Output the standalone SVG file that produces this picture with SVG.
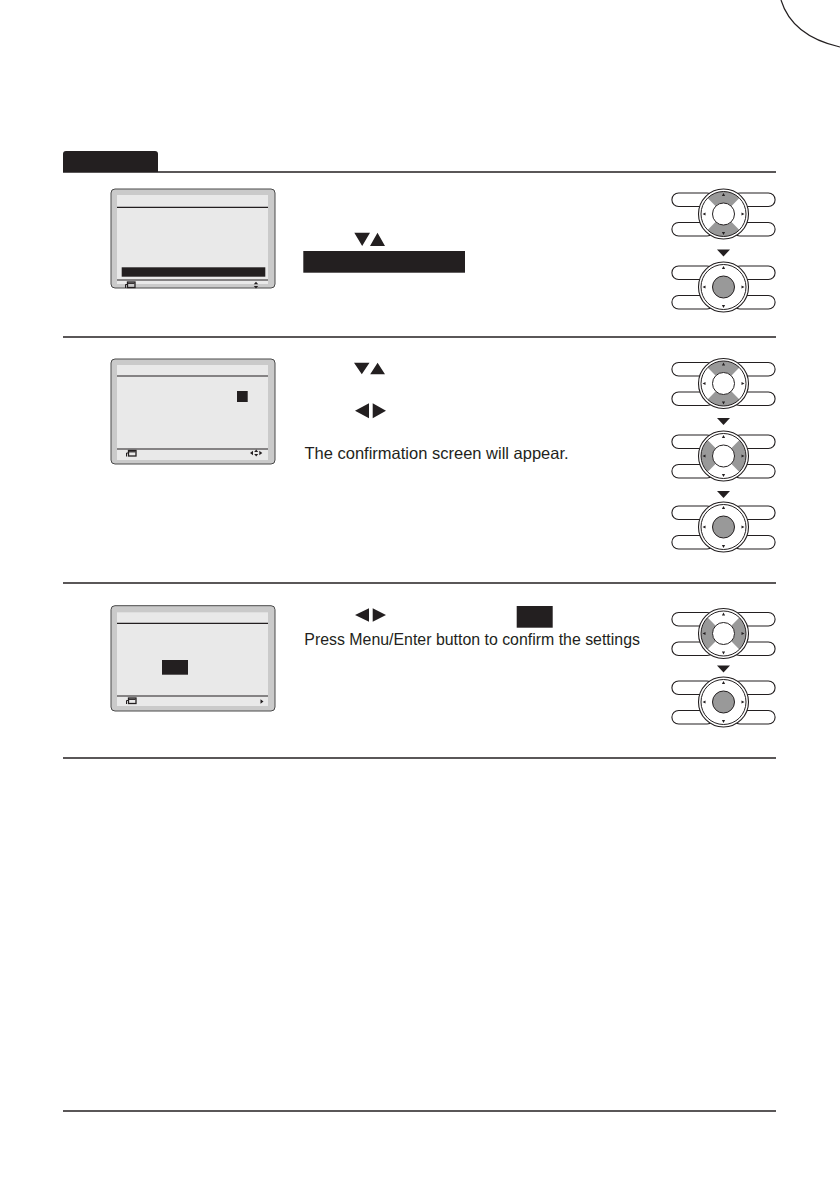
<svg xmlns="http://www.w3.org/2000/svg" xmlns:xlink="http://www.w3.org/1999/xlink" width="840" height="1191" viewBox="0 0 840 1191">
<style>
.rule{stroke:#231f20;stroke-width:1.4;fill:none}
.frame{fill:#cacaca;stroke:#4a4a4a;stroke-width:1}
.disp{fill:#e9e9e9}
.sl{stroke:#231f20;stroke-width:1.2}
.blk{fill:#231f20}
.txt{font-family:"Liberation Sans",Arial,sans-serif;font-size:16px;fill:#231f20}
.pill{fill:#fff;stroke:#231f20;stroke-width:1.1}
.ring{fill:#fff;stroke:#231f20;stroke-width:1.1}
.ring2{fill:none;stroke:#231f20;stroke-width:1}
.sec{fill:#999999}
.ctr{fill:#fff;stroke:#231f20;stroke-width:1}
.ctrOn{fill:#999999;stroke:#231f20;stroke-width:1}
</style>
<defs>
<g id="ctlBase">
<rect class="pill" x="-51.6" y="-21" width="42" height="13.5" rx="6.75"/>
<rect class="pill" x="-51.6" y="8.5" width="42" height="13.5" rx="6.75"/>
<rect class="pill" x="9.6" y="-21" width="42" height="13.5" rx="6.75"/>
<rect class="pill" x="9.6" y="8.5" width="42" height="13.5" rx="6.75"/>
<circle class="ring" r="25"/>
</g>
<g id="ctlMarks">
<circle class="ring2" r="22.5"/>
<path class="blk" d="M0,-21 L1.6,-18 L-1.6,-18 Z M0,21 L1.6,18 L-1.6,18 Z M-21,0 L-18,1.6 L-18,-1.6 Z M21,0 L18,1.6 L18,-1.6 Z"/>
</g>
<path id="secUD" class="sec" d="M-15.91,-15.91 A22.5,22.5 0 0 1 15.91,-15.91 L7.78,-7.78 A11,11 0 0 0 -7.78,-7.78 Z M15.91,15.91 A22.5,22.5 0 0 1 -15.91,15.91 L-7.78,7.78 A11,11 0 0 0 7.78,7.78 Z"/>
<path id="secLR" class="sec" d="M-15.91,15.91 A22.5,22.5 0 0 1 -15.91,-15.91 L-7.78,-7.78 A11,11 0 0 0 -7.78,7.78 Z M15.91,-15.91 A22.5,22.5 0 0 1 15.91,15.91 L7.78,7.78 A11,11 0 0 0 7.78,-7.78 Z"/>
<g id="ctlUD"><use xlink:href="#ctlBase"/><use xlink:href="#secUD"/><use xlink:href="#ctlMarks"/><circle class="ctr" r="11"/></g>
<g id="ctlLR"><use xlink:href="#ctlBase"/><use xlink:href="#secLR"/><use xlink:href="#ctlMarks"/><circle class="ctr" r="11"/></g>
<g id="ctlEnter"><use xlink:href="#ctlBase"/><use xlink:href="#ctlMarks"/><circle class="ctrOn" r="11"/></g>
<path id="downArrow" class="blk" d="M-6.5,0 L6.5,0 L0,7 Z"/>
<g id="backIcon">
<rect x="2.5" y="0" width="7.5" height="5.5" fill="none" stroke="#231f20" stroke-width="1.3"/>
<path d="M2.5,1.3 L9.5,1.3" stroke="#231f20" stroke-width="1.2"/>
<path d="M0.5,6 L0.5,2.5 L2.5,2.5" fill="none" stroke="#231f20" stroke-width="1"/>
</g>
</defs>

<g id="page">
<path d="M781,0 Q792,36 840,47" fill="none" stroke="#231f20" stroke-width="1.2"/>
<path class="blk" d="M63,172 L63,154 Q63,151 66,151 L155,151 Q158,151 158,154 L158,172 Z"/>
<line class="rule" x1="63" y1="172" x2="776" y2="172" stroke-width="1.6"/>
<line class="rule" x1="63" y1="337" x2="776" y2="337"/>
<line class="rule" x1="63" y1="583" x2="776" y2="583"/>
<line class="rule" x1="63" y1="758" x2="776" y2="758"/>
<line class="rule" x1="63" y1="1111" x2="776" y2="1111" stroke-width="1"/>
</g>

<g id="screen1">
<rect class="frame" x="111" y="189" width="164" height="99" rx="4"/>
<rect class="disp" x="117" y="195" width="151" height="89"/>
<line class="sl" x1="117" y1="207.3" x2="268" y2="207.3"/>
<rect class="blk" x="121.7" y="267.3" width="143.6" height="9.4"/>
<line class="sl" x1="117" y1="280" x2="268" y2="280"/>
<use xlink:href="#backIcon" x="125" y="282"/>
<path class="blk" d="M256,281.8 L258.2,284.3 L253.8,284.3 Z M256,288.6 L258.2,286.1 L253.8,286.1 Z"/>
</g>

<g id="step1text">
<path class="blk" d="M354.3,232.7 L370,232.7 L362.2,246 Z M370,246 L385,246 L377.5,232.7 Z"/>
<rect class="blk" x="303.3" y="251" width="161.7" height="21.7"/>
</g>

<g id="ctl1a"><use xlink:href="#ctlUD" x="723.5" y="214"/></g>
<use xlink:href="#downArrow" x="723.5" y="249.5"/>
<g id="ctl1b"><use xlink:href="#ctlEnter" x="723.5" y="287"/></g>

<g id="screen2">
<rect class="frame" x="111" y="359" width="164" height="105" rx="4"/>
<rect class="disp" x="117" y="365" width="151" height="95"/>
<line class="sl" x1="117" y1="376" x2="268" y2="376"/>
<rect class="blk" x="237" y="391" width="10.7" height="11"/>
<line class="sl" x1="117" y1="449" x2="268" y2="449"/>
<use xlink:href="#backIcon" x="126" y="450.5"/>
<path class="blk" d="M250,453 L253,450.8 L253,455.2 Z M262.3,453 L259.3,450.8 L259.3,455.2 Z M256.2,449.5 L258.2,452 L254.2,452 Z M256.2,456.5 L258.2,454 L254.2,454 Z"/>
</g>

<g id="step2text">
<path class="blk" d="M354,362.7 L369.5,362.7 L361.8,374.3 Z M370.2,374.3 L385,374.3 L377.6,362.7 Z"/>
<path class="blk" d="M355,410.8 L369,403.3 L369,418.3 Z M386,410.8 L372.7,403.3 L372.7,418.3 Z"/>
<text class="txt" x="304.5" y="459" style="font-size:16.5px">The confirmation screen will appear.</text>
</g>

<g id="ctl2a"><use xlink:href="#ctlUD" x="723.5" y="383.5"/></g>
<use xlink:href="#downArrow" x="723.5" y="418"/>
<g id="ctl2b"><use xlink:href="#ctlLR" x="723.5" y="456"/></g>
<use xlink:href="#downArrow" x="723.5" y="491"/>
<g id="ctl2c"><use xlink:href="#ctlEnter" x="723.5" y="527"/></g>

<g id="screen3">
<rect class="frame" x="111" y="605.7" width="164" height="105.3" rx="4"/>
<rect class="disp" x="117" y="612.3" width="151" height="93.7"/>
<line class="sl" x1="117" y1="623.3" x2="268" y2="623.3"/>
<rect class="blk" x="162" y="660" width="26" height="14.7"/>
<line class="sl" x1="117" y1="696" x2="268" y2="696"/>
<use xlink:href="#backIcon" x="126" y="698"/>
<path class="blk" d="M263.5,701.5 L260.5,699.3 L260.5,703.7 Z"/>
</g>

<g id="step3text">
<path class="blk" d="M355,615 L369,608.3 L369,621.7 Z M386,615 L372.7,608.3 L372.7,621.7 Z"/>
<rect class="blk" x="516.7" y="606" width="36" height="21.7"/>
<text class="txt" x="304.3" y="644.5" style="font-size:15.9px">Press Menu/Enter button to confirm the settings</text>
</g>

<g id="ctl3a"><use xlink:href="#ctlLR" x="723.5" y="633.5"/></g>
<use xlink:href="#downArrow" x="723.5" y="665.5"/>
<g id="ctl3b"><use xlink:href="#ctlEnter" x="723.5" y="702"/></g>
</svg>
